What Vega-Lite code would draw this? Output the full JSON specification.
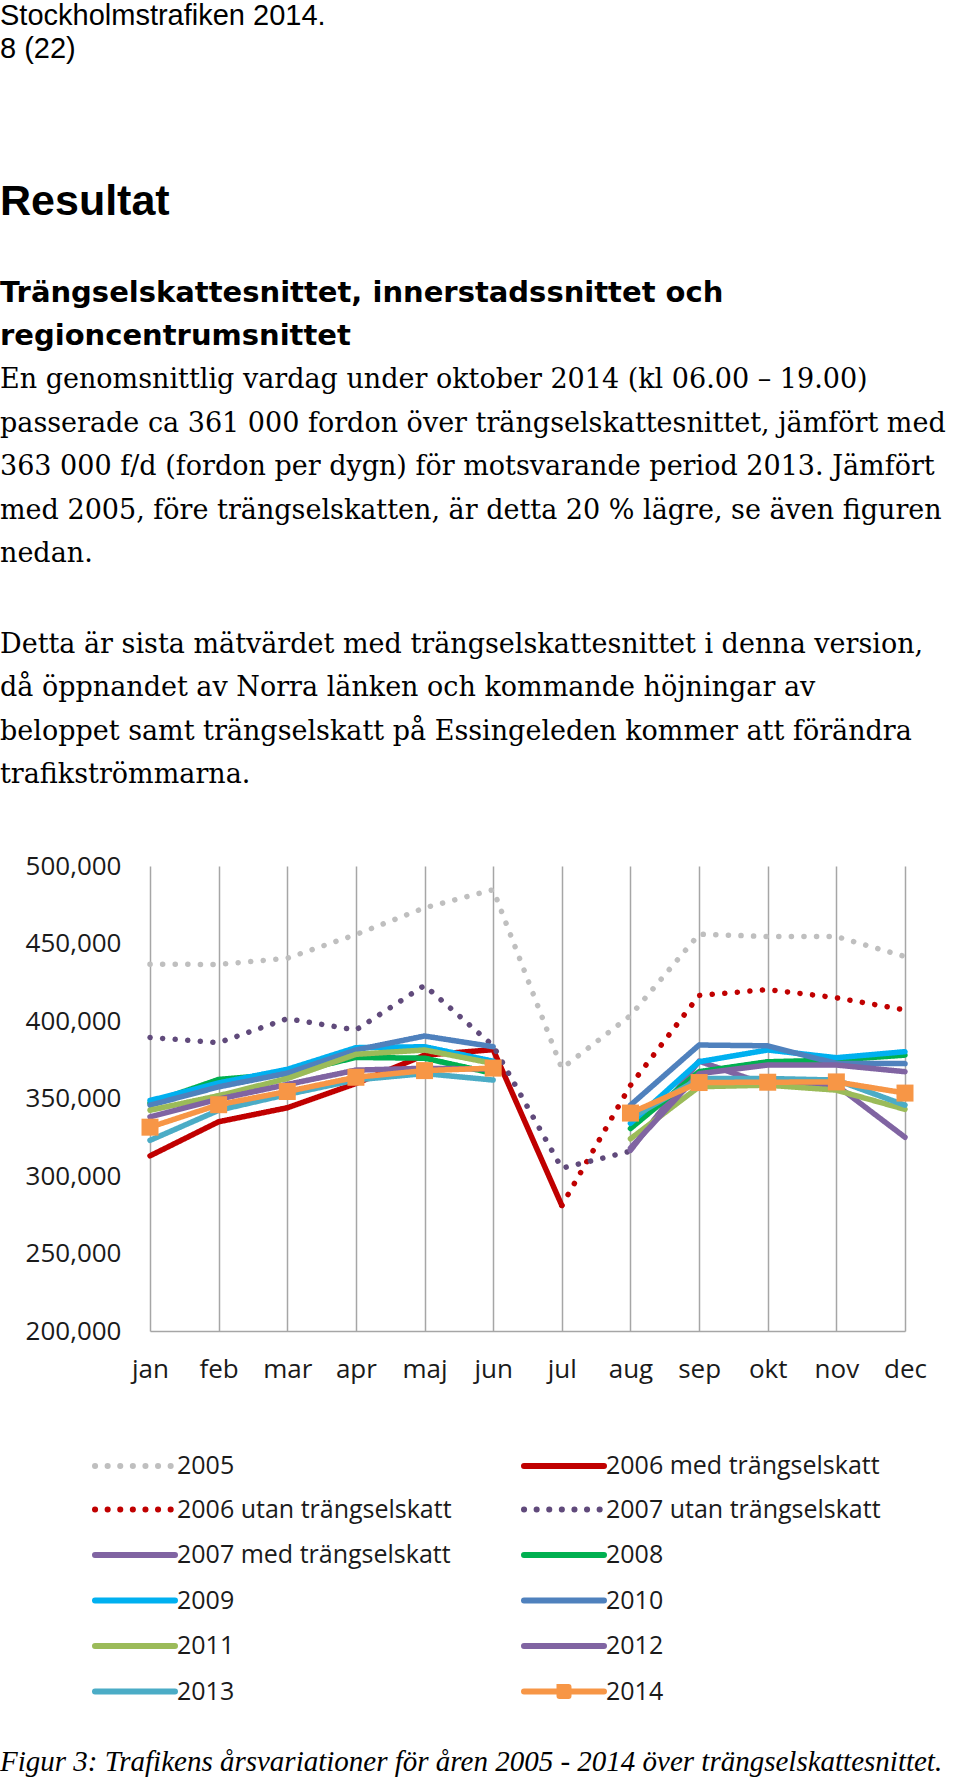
{
  "$schema": "https://vega.github.io/schema/vega-lite/v6.json",
  "padding": {"top": 2, "left": 0, "right": 0, "bottom": 0},
  "background": "white",
  "config": {"view": {"stroke": null}, "font": "Open Sans"},
  "resolve": {"legend": {"color": "independent", "strokeDash": "independent"}},
  "datasets": {
    "traffic": [
      {"s":"2005","m":"jan","v":436600,"p":"a"},{"s":"2005","m":"feb","v":436500,"p":"a"},{"s":"2005","m":"mar","v":440500,"p":"a"},{"s":"2005","m":"apr","v":455800,"p":"a"},{"s":"2005","m":"maj","v":473000,"p":"a"},{"s":"2005","m":"jun","v":484700,"p":"a"},{"s":"2005","m":"jul","v":369400,"p":"a"},{"s":"2005","m":"aug","v":403500,"p":"a"},{"s":"2005","m":"sep","v":456000,"p":"a"},{"s":"2005","m":"okt","v":454500,"p":"a"},{"s":"2005","m":"nov","v":454500,"p":"a"},{"s":"2005","m":"dec","v":441600,"p":"a"},
      {"s":"2006 med trängselskatt","m":"jan","v":313000,"p":"a"},{"s":"2006 med trängselskatt","m":"feb","v":335000,"p":"a"},{"s":"2006 med trängselskatt","m":"mar","v":344000,"p":"a"},{"s":"2006 med trängselskatt","m":"apr","v":359700,"p":"a"},{"s":"2006 med trängselskatt","m":"maj","v":378000,"p":"a"},{"s":"2006 med trängselskatt","m":"jun","v":381500,"p":"a"},{"s":"2006 med trängselskatt","m":"jul","v":281000,"p":"a"},
      {"s":"2006 utan trängselskatt","m":"jul","v":281000,"p":"a"},{"s":"2006 utan trängselskatt","m":"aug","v":358500,"p":"a"},{"s":"2006 utan trängselskatt","m":"sep","v":416500,"p":"a"},{"s":"2006 utan trängselskatt","m":"okt","v":420300,"p":"a"},{"s":"2006 utan trängselskatt","m":"nov","v":415000,"p":"a"},{"s":"2006 utan trängselskatt","m":"dec","v":407100,"p":"a"},
      {"s":"2007 utan trängselskatt","m":"jan","v":389400,"p":"a"},{"s":"2007 utan trängselskatt","m":"feb","v":386000,"p":"a"},{"s":"2007 utan trängselskatt","m":"mar","v":401500,"p":"a"},{"s":"2007 utan trängselskatt","m":"apr","v":394200,"p":"a"},{"s":"2007 utan trängselskatt","m":"maj","v":423000,"p":"a"},{"s":"2007 utan trängselskatt","m":"jun","v":384000,"p":"a"},{"s":"2007 utan trängselskatt","m":"jul","v":305000,"p":"a"},{"s":"2007 utan trängselskatt","m":"aug","v":316000,"p":"a"},
      {"s":"2007 med trängselskatt","m":"aug","v":316500,"p":"b"},{"s":"2007 med trängselskatt","m":"sep","v":374100,"p":"b"},{"s":"2007 med trängselskatt","m":"okt","v":358600,"p":"b"},{"s":"2007 med trängselskatt","m":"nov","v":358600,"p":"b"},{"s":"2007 med trängselskatt","m":"dec","v":325000,"p":"b"},
      {"s":"2008","m":"jan","v":347000,"p":"a"},{"s":"2008","m":"feb","v":362300,"p":"a"},{"s":"2008","m":"mar","v":366000,"p":"a"},{"s":"2008","m":"apr","v":376500,"p":"a"},{"s":"2008","m":"maj","v":376000,"p":"a"},{"s":"2008","m":"jun","v":366200,"p":"a"},{"s":"2008","m":"aug","v":330600,"p":"b"},{"s":"2008","m":"sep","v":367300,"p":"b"},{"s":"2008","m":"okt","v":373700,"p":"b"},{"s":"2008","m":"nov","v":374800,"p":"b"},{"s":"2008","m":"dec","v":378000,"p":"b"},
      {"s":"2009","m":"jan","v":348700,"p":"a"},{"s":"2009","m":"feb","v":360000,"p":"a"},{"s":"2009","m":"mar","v":368800,"p":"a"},{"s":"2009","m":"apr","v":382800,"p":"a"},{"s":"2009","m":"maj","v":383400,"p":"a"},{"s":"2009","m":"jun","v":374000,"p":"a"},{"s":"2009","m":"aug","v":334000,"p":"b"},{"s":"2009","m":"sep","v":373700,"p":"b"},{"s":"2009","m":"okt","v":381300,"p":"b"},{"s":"2009","m":"nov","v":376300,"p":"b"},{"s":"2009","m":"dec","v":380200,"p":"b"},
      {"s":"2010","m":"jan","v":345700,"p":"a"},{"s":"2010","m":"feb","v":357500,"p":"a"},{"s":"2010","m":"mar","v":366300,"p":"a"},{"s":"2010","m":"apr","v":381300,"p":"a"},{"s":"2010","m":"maj","v":390300,"p":"a"},{"s":"2010","m":"jun","v":383400,"p":"a"},{"s":"2010","m":"aug","v":345700,"p":"b"},{"s":"2010","m":"sep","v":384500,"p":"b"},{"s":"2010","m":"okt","v":384000,"p":"b"},{"s":"2010","m":"nov","v":372600,"p":"b"},{"s":"2010","m":"dec","v":372500,"p":"b"},
      {"s":"2011","m":"jan","v":342400,"p":"a"},{"s":"2011","m":"feb","v":351800,"p":"a"},{"s":"2011","m":"mar","v":362900,"p":"a"},{"s":"2011","m":"apr","v":378500,"p":"a"},{"s":"2011","m":"maj","v":381300,"p":"a"},{"s":"2011","m":"jun","v":372600,"p":"a"},{"s":"2011","m":"aug","v":324000,"p":"b"},{"s":"2011","m":"sep","v":357600,"p":"b"},{"s":"2011","m":"okt","v":358600,"p":"b"},{"s":"2011","m":"nov","v":355400,"p":"b"},{"s":"2011","m":"dec","v":343000,"p":"b"},
      {"s":"2012","m":"jan","v":338200,"p":"a"},{"s":"2012","m":"feb","v":349600,"p":"a"},{"s":"2012","m":"mar","v":359000,"p":"a"},{"s":"2012","m":"apr","v":368300,"p":"a"},{"s":"2012","m":"maj","v":369500,"p":"a"},{"s":"2012","m":"jun","v":369000,"p":"a"},{"s":"2012","m":"aug","v":318000,"p":"b"},{"s":"2012","m":"sep","v":366000,"p":"b"},{"s":"2012","m":"okt","v":371600,"p":"b"},{"s":"2012","m":"nov","v":371600,"p":"b"},{"s":"2012","m":"dec","v":367300,"p":"b"},
      {"s":"2013","m":"jan","v":323000,"p":"a"},{"s":"2013","m":"feb","v":342400,"p":"a"},{"s":"2013","m":"mar","v":352600,"p":"a"},{"s":"2013","m":"apr","v":362000,"p":"a"},{"s":"2013","m":"maj","v":366100,"p":"a"},{"s":"2013","m":"jun","v":361900,"p":"a"},{"s":"2013","m":"aug","v":337100,"p":"b"},{"s":"2013","m":"sep","v":362900,"p":"b"},{"s":"2013","m":"okt","v":362900,"p":"b"},{"s":"2013","m":"nov","v":361900,"p":"b"},{"s":"2013","m":"dec","v":345700,"p":"b"},
      {"s":"2014","m":"jan","v":331500,"p":"a"},{"s":"2014","m":"feb","v":346000,"p":"a"},{"s":"2014","m":"mar","v":354500,"p":"a"},{"s":"2014","m":"apr","v":363700,"p":"a"},{"s":"2014","m":"maj","v":368000,"p":"a"},{"s":"2014","m":"jun","v":369600,"p":"a"},{"s":"2014","m":"aug","v":340600,"p":"b"},{"s":"2014","m":"sep","v":360300,"p":"b"},{"s":"2014","m":"okt","v":360500,"p":"b"},{"s":"2014","m":"nov","v":360700,"p":"b"},{"s":"2014","m":"dec","v":353500,"p":"b"}
    ]
  },
  "vconcat": [
    {
      "width": 700,
      "height": 55,
      "data": {"values": []},
      "mark": "text",
      "encoding": {"text": {"value": ""}},
      "title": {
        "text": ["Stockholmstrafiken 2014.", "8 (22)"],
        "subtitle": "Resultat",
        "anchor": "start",
        "frame": "group",
        "dx": -150,
        "offset": 0,
        "font": "Liberation Sans",
        "fontSize": 29,
        "fontWeight": "normal",
        "color": "#000000",
        "lineHeight": 33,
        "subtitleFont": "Liberation Sans",
        "subtitleFontSize": 43,
        "subtitleFontWeight": "bold",
        "subtitleColor": "#000000",
        "subtitlePadding": 117
      }
    },
    {
      "width": 700,
      "height": 63,
      "data": {"values": []},
      "mark": "text",
      "encoding": {"text": {"value": ""}},
      "title": {
        "text": ["Trängselskattesnittet, innerstadssnittet och", "regioncentrumsnittet"],
        "subtitle": [
          "En genomsnittlig vardag under oktober 2014 (kl 06.00 – 19.00)",
          "passerade ca 361 000 fordon över trängselskattesnittet, jämfört med",
          "363 000 f/d (fordon per dygn) för motsvarande period 2013. Jämfört",
          "med 2005, före trängselskatten, är detta 20 % lägre, se även figuren",
          "nedan."
        ],
        "anchor": "start",
        "frame": "group",
        "dx": -150,
        "offset": 0,
        "font": "DejaVu Sans",
        "fontSize": 29,
        "fontWeight": "bold",
        "color": "#000000",
        "lineHeight": 43,
        "subtitleFont": "DejaVu Serif",
        "subtitleFontSize": 27,
        "subtitleFontWeight": "normal",
        "subtitleColor": "#000000",
        "subtitleLineHeight": 43.5,
        "subtitlePadding": 16
      }
    },
    {
      "width": 700,
      "height": 63.5,
      "data": {"values": []},
      "mark": "text",
      "encoding": {"text": {"value": ""}},
      "title": {
        "text": [
          "Detta är sista mätvärdet med trängselskattesnittet i denna version,",
          "då öppnandet av Norra länken och kommande höjningar av",
          "beloppet samt trängselskatt på Essingeleden kommer att förändra",
          "trafikströmmarna."
        ],
        "anchor": "start",
        "frame": "group",
        "dx": -150,
        "offset": 0,
        "font": "DejaVu Serif",
        "fontSize": 27,
        "fontWeight": "normal",
        "color": "#000000",
        "lineHeight": 43.5
      }
    },
    {
      "width": 755,
      "height": 465,
      "data": {"name": "traffic"},
      "title": {
        "text": "Figur 3: Trafikens årsvariationer för åren 2005 - 2014 över trängselskattesnittet.",
        "orient": "bottom",
        "anchor": "start",
        "frame": "bounds",
        "offset": 40,
        "font": "Liberation Serif",
        "fontSize": 29,
        "fontStyle": "italic",
        "fontWeight": "normal",
        "color": "#000000"
      },
      "encoding": {
        "x": {
          "field": "m", "type": "ordinal",
          "scale": {"type": "point", "domain": ["jan","feb","mar","apr","maj","jun","jul","aug","sep","okt","nov","dec"], "padding": 0},
          "axis": {"title": null, "grid": true, "gridColor": "#a6a6a6", "gridWidth": 1.5, "domain": true, "domainColor": "#a6a6a6", "domainWidth": 1.5, "ticks": false, "labelAngle": 0, "labelFont": "Open Sans", "labelFontSize": 26, "labelColor": "#1a1a1a", "labelPadding": 25}
        },
        "y": {
          "field": "v", "type": "quantitative",
          "scale": {"domain": [200000, 500000], "nice": false, "zero": false},
          "axis": {"title": null, "values": [200000,250000,300000,350000,400000,450000,500000], "format": ",d", "grid": false, "domain": false, "ticks": false, "tickSize": 0, "labelFont": "Open Sans", "labelFontSize": 26, "labelColor": "#1a1a1a", "labelPadding": 29, "minExtent": 150, "maxExtent": 150}
        }
      },
      "layer": [
        {
          "mark": {"type": "line", "strokeWidth": 5.5, "strokeCap": "round", "strokeJoin": "round"},
          "encoding": {
            "color": {
              "field": "s", "type": "nominal",
              "scale": {
                "domain": ["2005","2006 med trängselskatt","2006 utan trängselskatt","2007 utan trängselskatt","2007 med trängselskatt","2008","2009","2010","2011","2012","2013","2014"],
                "range": ["#BFBFBF","#C00000","#C00000","#604A7B","#8064A2","#00B050","#00B0F0","#4F81BD","#9BBB59","#8064A2","#4BACC6","#F79646"]
              },
              "legend": {
                "title": null, "orient": "none", "legendX": -58, "legendY": 585, "direction": "horizontal", "columns": 2, "columnPadding": 60, "rowPadding": 11.5, "gridAlign": "all",
                "symbolType": "M-4,0H4", "symbolSize": 400, "symbolStrokeWidth": 6, "symbolOffset": 30, "labelOffset": 29,
                "labelFont": "Open Sans", "labelFontSize": 25, "labelColor": "#1a1a1a", "labelLimit": 400,
                "encoding": {"symbols": {
                  "strokeCap": {"value": "round"},
                  "shape": {"condition": {"test": "datum.value === '2014'", "value": "M-4,0H4M-0.45,-0.45H0.45V0.45H-0.45Z"}, "value": "M-4,0H4"},
                  "fill": {"condition": {"test": "datum.value === '2014'", "value": "#F79646"}, "value": "transparent"}
                }}
              }
            },
            "strokeDash": {
              "field": "s", "type": "nominal",
              "scale": {
                "domain": ["2005","2006 med trängselskatt","2006 utan trängselskatt","2007 utan trängselskatt","2007 med trängselskatt","2008","2009","2010","2011","2012","2013","2014"],
                "range": [[0.1,12.5],[1,0],[0.1,12.5],[0.1,12.5],[1,0],[1,0],[1,0],[1,0],[1,0],[1,0],[1,0],[1,0]]
              },
              "legend": {
                "title": null, "orient": "none", "legendX": -58, "legendY": 585, "direction": "horizontal", "columns": 2, "columnPadding": 60, "rowPadding": 11.5, "gridAlign": "all",
                "symbolType": "M-4,0H4", "symbolSize": 400, "symbolStrokeWidth": 6, "symbolOffset": 30, "labelOffset": 29,
                "labelFont": "Open Sans", "labelFontSize": 25, "labelColor": "#1a1a1a", "labelLimit": 400,
                "encoding": {"symbols": {
                  "strokeCap": {"value": "round"},
                  "shape": {"condition": {"test": "datum.value === '2014'", "value": "M-4,0H4M-0.45,-0.45H0.45V0.45H-0.45Z"}, "value": "M-4,0H4"},
                  "fill": {"condition": {"test": "datum.value === '2014'", "value": "#F79646"}, "value": "transparent"}
                }}
              }
            },
            "detail": {"field": "p", "type": "nominal"},
            "order": {"value": null}
          }
        },
        {
          "transform": [{"filter": "datum.s === '2014'"}],
          "mark": {"type": "point", "shape": "square", "filled": true, "size": 289, "color": "#F79646", "opacity": 1}
        }
      ]
    }
  ],
  "spacing": 0
}
